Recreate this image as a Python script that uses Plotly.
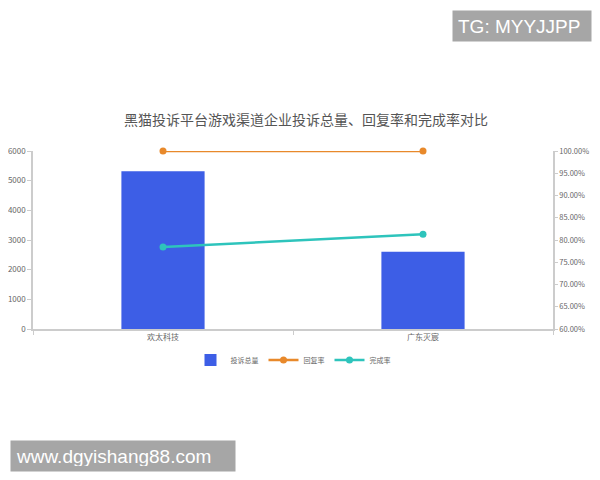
import plotly.graph_objects as go

# data
companies = ["欢太科技", "广东灭宸"]
complaints = [5320, 2600]
reply_rate = [100.0, 100.0]
finish_rate = [78.4, 81.3]

fig = go.Figure()

fig.add_trace(go.Bar(
    name="投诉总量",
    x=companies,
    y=complaints,
    marker=dict(color="#3d5ee6", line=dict(width=0)),
    width=0.32,
))

fig.add_trace(go.Scatter(
    name="回复率",
    x=companies,
    y=reply_rate,
    yaxis="y2",
    mode="lines+markers",
    line=dict(color="#e8892b", width=2.5),
    marker=dict(size=7, color="#e8892b"),
    cliponaxis=False,
))

fig.add_trace(go.Scatter(
    name="完成率",
    x=companies,
    y=finish_rate,
    yaxis="y2",
    mode="lines+markers",
    line=dict(color="#2ec4bc", width=2.5),
    marker=dict(size=7, color="#2ec4bc"),
    cliponaxis=False,
))

axis_font = dict(family="Noto Sans CJK SC", size=8, color="#666666")

# page has an 8px body margin, so the figure is a bit smaller than the window
fig.update_layout(
    width=584,
    height=464,
    margin=dict(l=25, r=39, t=143, b=143, autoexpand=False),
    paper_bgcolor="white",
    plot_bgcolor="white",
    showlegend=True,
    title=dict(
        text="黑猫投诉平台游戏渠道企业投诉总量、回复率和完成率对比",
        x=298 / 584, xanchor="center",
        y=1 - 112 / 464, yanchor="middle",
        font=dict(family="Noto Sans CJK SC", size=14, color="#555555"),
    ),
    xaxis=dict(
        showline=True, linecolor="#cccccc", linewidth=1.5,
        ticks="outside", tickson="boundaries", ticklen=4, tickcolor="#cccccc",
        tickfont=axis_font, showgrid=False, automargin=False,
    ),
    yaxis=dict(
        range=[0, 6000], dtick=1000,
        showline=True, linecolor="#cccccc", linewidth=1.5,
        ticks="outside", ticklen=4, tickcolor="#cccccc",
        tickfont=axis_font, showgrid=False, zeroline=False, automargin=False,
    ),
    yaxis2=dict(
        overlaying="y", side="right",
        range=[60, 100], dtick=5,
        ticksuffix="%", tickformat=".2f",
        showline=True, linecolor="#cccccc", linewidth=1.5,
        ticks="outside", ticklen=3, tickcolor="#cccccc",
        tickfont=dict(family="Noto Sans CJK SC", size=7.5, color="#666666"),
        showgrid=False, zeroline=False, automargin=False,
    ),
    legend=dict(
        orientation="h",
        x=(285 - 25) / 520, xanchor="center",
        y=-31 / 178, yanchor="middle",
        font=dict(family="Noto Sans CJK SC", size=7, color="#666666"),
        itemwidth=30,
    ),
    bargap=0.68,
)

# watermarks
fig.add_annotation(
    text="TG: MYYJJPP", xref="paper", yref="paper",
    x=(444 - 25) / 520, y=(321 - 2) / 178,
    xanchor="left", yanchor="top", showarrow=False,
    bgcolor="#a6a6a6", borderpad=5, width=128, height=20, align="left",
    font=dict(family="Liberation Sans", size=19, color="white"),
)
fig.add_annotation(
    text="www.dgyishang88.com", xref="paper", yref="paper",
    x=(2 - 25) / 520, y=(321 - 432) / 178,
    xanchor="left", yanchor="top", showarrow=False,
    bgcolor="#a6a6a6", borderpad=5, width=214, height=20, align="left",
    font=dict(family="Liberation Sans", size=19, color="white"),
)

fig.write_html("out.html")
